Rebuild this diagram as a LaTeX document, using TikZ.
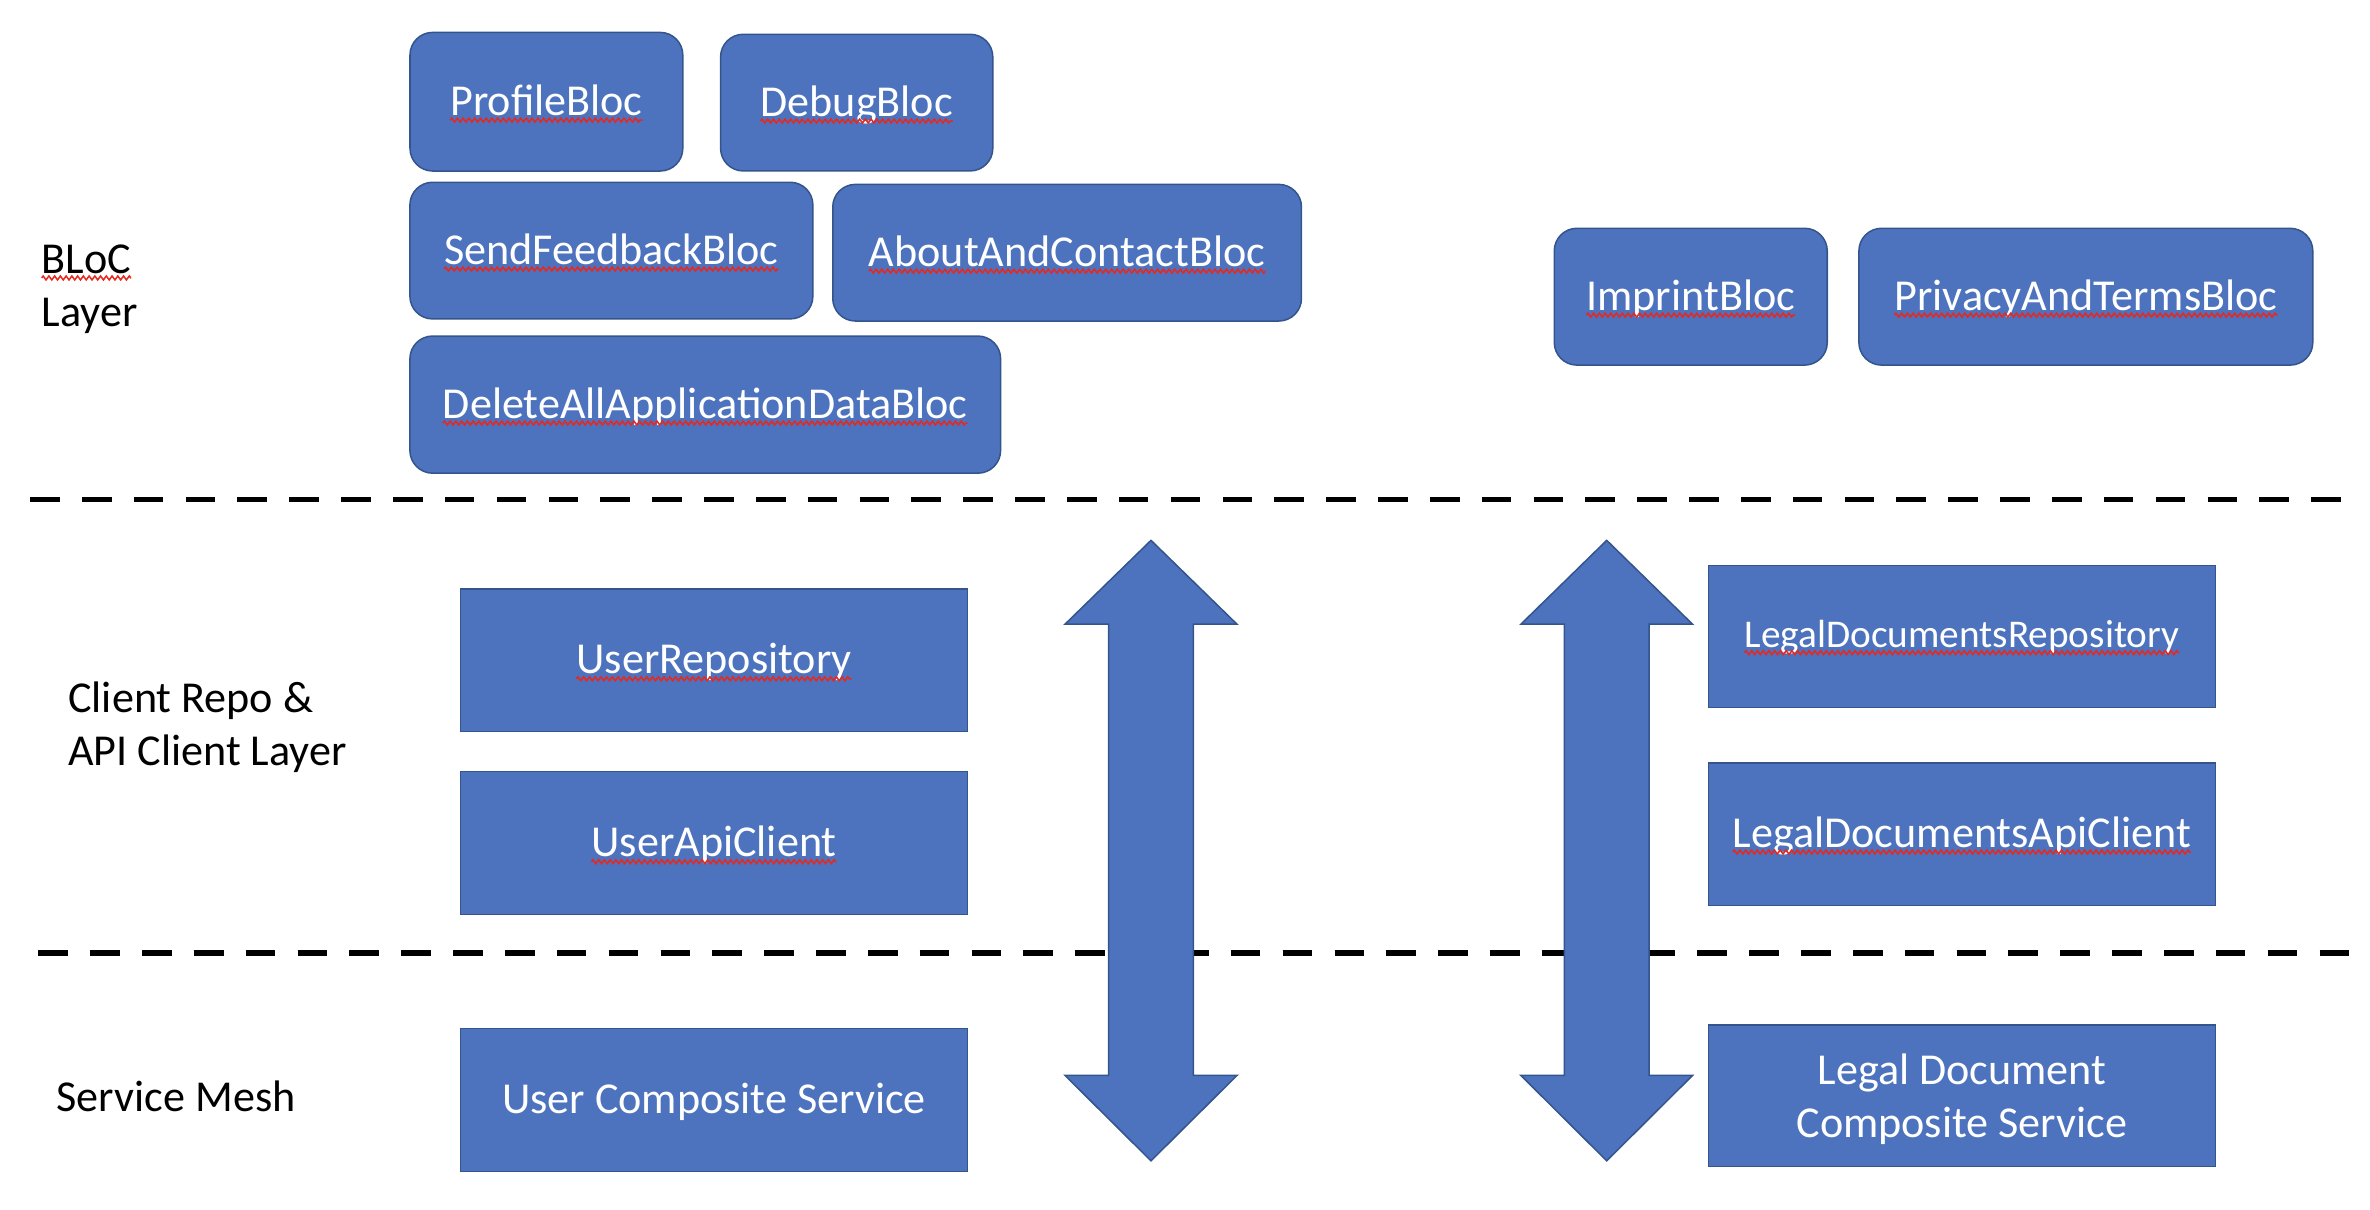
\documentclass[tikz,border=0pt]{standalone}
\usepackage{fontspec}
\setmainfont{Carlito}
\usetikzlibrary{decorations.pathmorphing}
\definecolor{boxfill}{RGB}{77,115,190}
\definecolor{boxline}{RGB}{52,84,140}
\definecolor{squigred}{RGB}{230,40,30}
\tikzset{
  blocbox/.style={draw=boxline, line width=0.5pt, fill=boxfill, rounded corners=7.5pt, inner sep=0pt},
  sqbox/.style={draw=boxline, line width=0.5pt, fill=boxfill, inner sep=0pt},
  wtxt/.style={text=white, inner sep=0pt, outer sep=0pt, anchor=base, font=\fontsize{14.6}{17.5}\selectfont},
  wtxtsmall/.style={wtxt, font=\fontsize{13}{15.6}\selectfont},
  btxt/.style={text=black, inner sep=0pt, outer sep=0pt, anchor=base west, font=\fontsize{14.6}{17.5}\selectfont},
  squig/.style={draw=squigred, line width=0.5pt, decorate, decoration={zigzag, amplitude=0.65pt, segment length=1.9pt}},
  layerline/.style={draw=black, line width=1.9pt, dash pattern=on 9.8pt off 7.35pt},
  bigarrow/.style={draw=boxline, line width=0.5pt, fill=boxfill, line join=miter}
}
\newcommand\squnder[1]{\draw[squig] ([yshift=-1.6pt]#1.base west) -- ([yshift=-1.6pt]#1.base east);}
\begin{document}
\begin{tikzpicture}[x=0.5pt,y=-0.5pt]
\useasboundingbox (0,0) rectangle (1568,800.5);

% layer separators
\coordinate (d1a) at (19.9,330.5);
\coordinate (d1b) at (1548.6,330.5);
\coordinate (d2a) at (25.4,630.7);
\coordinate (d2b) at (1554,630.7);
\draw[layerline] (d1a) -- (d1b);
\draw[layerline] (d2a) -- (d2b);

% layer labels
\node[btxt] (lbloc) at (27.6,180.7) {BLoC};
\squnder{lbloc}
\node[btxt] (llayer) at (27.6,215.7) {Layer};
\node[btxt] (lclient1) at (45.2,471.6) {Client Repo \&};
\node[btxt] (lclient2) at (45.2,506.5) {API Client Layer};
\node[btxt] (lmesh) at (37.5,735.4) {Service Mesh};

% BLoC boxes
\node[blocbox, minimum width=90.25pt, minimum height=45.85pt] (bprofile) at (361.5,67.3) {};
\node[blocbox, minimum width=90.05pt, minimum height=45.2pt] (bdebug) at (566.8,67.9) {};
\node[blocbox, minimum width=133.3pt, minimum height=45.2pt] (bsend) at (404.5,165.8) {};
\node[blocbox, minimum width=155.05pt, minimum height=45.2pt] (babout) at (706,167.2) {};
\node[blocbox, minimum width=195.4pt, minimum height=45.35pt] (bdelete) at (466.6,267.7) {};
\node[blocbox, minimum width=90.3pt, minimum height=45.25pt] (bimprint) at (1118.6,196.3) {};
\node[blocbox, minimum width=150.15pt, minimum height=45.25pt] (bprivacy) at (1380,196.3) {};

\node[wtxt] (tprofile) at ([yshift=-4.5pt]bprofile.center) {ProfileBloc};
\node[wtxt] (tdebug) at ([yshift=-4.5pt]bdebug.center) {DebugBloc};
\node[wtxt] (tsend) at ([yshift=-4.5pt]bsend.center) {SendFeedbackBloc};
\node[wtxt] (tabout) at ([yshift=-4.5pt]babout.center) {AboutAndContactBloc};
\node[wtxt] (tdelete) at ([yshift=-4.5pt]bdelete.center) {DeleteAllApplicationDataBloc};
\node[wtxt] (timprint) at ([yshift=-4.5pt]bimprint.center) {ImprintBloc};
\node[wtxt] (tprivacy) at ([yshift=-4.5pt]bprivacy.center) {PrivacyAndTermsBloc};
\squnder{tprofile}
\squnder{tdebug}
\squnder{tsend}
\squnder{tabout}
\squnder{tdelete}
\squnder{timprint}
\squnder{tprivacy}

% arrows
\draw[bigarrow] (733.4,413) -- (704.6,413) -- (761.5,357.5) -- (818.4,413) -- (789.6,413)
  -- (789.6,711.5) -- (818.4,711.5) -- (761.5,768) -- (704.6,711.5) -- (733.4,711.5) -- cycle;
\draw[bigarrow] (1035,413) -- (1006.2,413) -- (1063,357.5) -- (1119.8,413) -- (1091,413)
  -- (1091,711.5) -- (1119.8,711.5) -- (1063,768) -- (1006.2,711.5) -- (1035,711.5) -- cycle;

% client / service boxes, user side
\node[sqbox, minimum width=167.75pt, minimum height=47.15pt] (urepo) at (472.4,436.7) {};
\node[sqbox, minimum width=167.75pt, minimum height=47.3pt] (uapi) at (472.4,557.7) {};
\node[sqbox, minimum width=167.75pt, minimum height=47.3pt] (ucomp) at (472.4,727.7) {};
\node[wtxt] (turepo) at ([yshift=-4.6pt]urepo.center) {UserRepository};
\node[wtxt] (tuapi) at ([yshift=-4.6pt]uapi.center) {UserApiClient};
\node[wtxt] (tucomp) at ([yshift=-4.5pt]ucomp.center) {User Composite Service};
\squnder{turepo}
\squnder{tuapi}

% legal side
\node[sqbox, minimum width=167.8pt, minimum height=47pt] (lrepo) at (1298,421) {};
\node[sqbox, minimum width=167.8pt, minimum height=47.15pt] (lapi) at (1298,551.9) {};
\node[sqbox, minimum width=167.8pt, minimum height=46.9pt] (lcomp) at (1298,724.9) {};
\node[wtxtsmall] (tlrepo) at ([yshift=-3.8pt]lrepo.center) {LegalDocumentsRepository};
\node[wtxt] (tlapi) at ([yshift=-4.3pt]lapi.center) {LegalDocumentsApiClient};
\node[wtxt] (tlcomp1) at ([yshift=3.55pt]lcomp.center) {Legal Document};
\node[wtxt] (tlcomp2) at ([yshift=-14pt]lcomp.center) {Composite Service};
\squnder{tlrepo}
\squnder{tlapi}
\end{tikzpicture}
\end{document}
